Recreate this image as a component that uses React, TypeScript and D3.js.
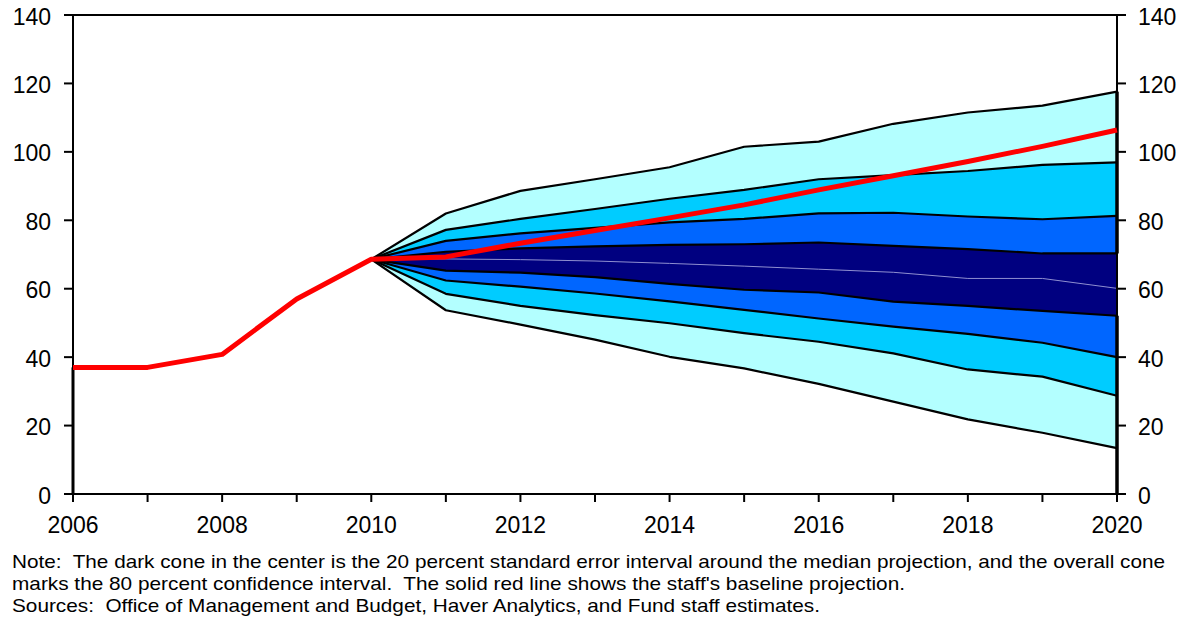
import * as d3 from 'd3';

// historical / baseline projection (red line)
const years = [2006, 2007, 2008, 2009, 2010, 2011, 2012, 2013, 2014, 2015, 2016, 2017, 2018, 2019, 2020];
const baseline = [37.0, 37.0, 40.8, 57.0, 68.6, 69.3, 73.3, 77.0, 80.7, 84.5, 88.9, 93.0, 97.2, 101.6, 106.4];

// fan chart bounds, 2010-2020
const fanYears = [2010, 2011, 2012, 2013, 2014, 2015, 2016, 2017, 2018, 2019, 2020];
const upper80 = [68.6, 82.0, 88.6, 92.0, 95.5, 101.5, 103.0, 108.2, 111.5, 113.5, 117.6];
const upper60 = [68.6, 77.2, 80.4, 83.3, 86.3, 88.9, 92.0, 93.2, 94.4, 96.2, 96.9];
const upper40 = [68.6, 74.0, 76.2, 77.8, 79.4, 80.4, 82.0, 82.2, 81.1, 80.3, 81.3];
const upper20 = [68.6, 70.8, 71.8, 72.4, 72.8, 73.0, 73.5, 72.5, 71.6, 70.3, 70.3];
const median = [68.6, 68.7, 68.5, 68.1, 67.4, 66.6, 65.7, 64.8, 63.0, 63.0, 60.1];
const lower20 = [68.6, 65.3, 64.7, 63.4, 61.4, 59.7, 58.9, 56.2, 55.0, 53.5, 52.1];
const lower40 = [68.6, 62.4, 60.6, 58.6, 56.3, 53.8, 51.3, 48.9, 46.8, 44.2, 40.0];
const lower60 = [68.6, 58.5, 55.0, 52.3, 49.9, 47.0, 44.5, 41.1, 36.4, 34.3, 28.7];
const lower80 = [68.6, 53.7, 49.5, 45.1, 40.1, 36.7, 32.2, 27.0, 21.8, 17.9, 13.4];

const yTicks = [0, 20, 40, 60, 80, 100, 120, 140];
const xLabels = [2006, 2008, 2010, 2012, 2014, 2016, 2018, 2020];

const notes = [
  'Note:  The dark cone in the center is the 20 percent standard error interval around the median projection, and the overall cone',
  "marks the 80 percent confidence interval.  The solid red line shows the staff's baseline projection.",
  'Sources:  Office of Management and Budget, Haver Analytics, and Fund staff estimates.',
];
const noteWidths = [1153, 893, 808];

const WIDTH = 1191;
const HEIGHT = 621;
const FONT = 'Arial, "Liberation Sans", Helvetica, sans-serif';

export default function App() {
  const left = 73;
  const right = 1117;
  const top = 15;
  const bottom = 494;

  const x = d3.scaleLinear().domain([2006, 2020]).range([left, right]);
  const y = d3.scaleLinear().domain([0, 140]).range([bottom, top]);

  const bands = [
    { hi: upper80, lo: upper60, fill: '#B3FFFF' },
    { hi: upper60, lo: upper40, fill: '#00CCFF' },
    { hi: upper40, lo: upper20, fill: '#0066FF' },
    { hi: upper20, lo: lower20, fill: '#000080' },
    { hi: lower20, lo: lower40, fill: '#0066FF' },
    { hi: lower40, lo: lower60, fill: '#00CCFF' },
    { hi: lower60, lo: lower80, fill: '#B3FFFF' },
  ];

  const area = (hi: number[], lo: number[]) =>
    d3.area<number>()
      .x((_, i) => x(fanYears[i]))
      .y0((_, i) => y(lo[i]))
      .y1((_, i) => y(hi[i]))(fanYears) || '';

  const fanLine = (vals: number[]) =>
    d3.line<number>()
      .x((_, i) => x(fanYears[i]))
      .y(d => y(d))(vals) || '';

  const redLine = d3.line<number>()
    .x((_, i) => x(years[i]))
    .y(d => y(d))(baseline) || '';

  const last = fanYears.length - 1;

  return (
    <svg width={WIDTH} height={HEIGHT} style={{ position: 'absolute', left: 0, top: 0, background: '#fff' }}>
      {/* cone bands */}
      {bands.map((b, i) => (
        <path key={i} d={area(b.hi, b.lo)} fill={b.fill} stroke="none" />
      ))}

      {/* median (faint) */}
      <path d={fanLine(median)} fill="none" stroke="#8f8fd0" strokeWidth={1} />

      {/* boundary lines */}
      {[upper80, upper60, upper40, upper20, lower20, lower40, lower60, lower80].map((s, i) => (
        <path key={i} d={fanLine(s)} fill="none" stroke="#000" strokeWidth={2.2} strokeLinejoin="round" />
      ))}

      {/* axes frame */}
      <line x1={left} x2={right} y1={top} y2={top} stroke="#000" strokeWidth={2} />
      <line x1={left} x2={right} y1={bottom} y2={bottom} stroke="#000" strokeWidth={2} />
      <line x1={left} x2={left} y1={top} y2={bottom} stroke="#000" strokeWidth={2} />
      <line x1={right} x2={right} y1={top} y2={bottom} stroke="#000" strokeWidth={2} />

      {/* area outline edges drawn on the axes */}
      <line x1={left} x2={left} y1={y(baseline[0])} y2={bottom} stroke="#000" strokeWidth={3} />
      <line x1={x(fanYears[last])} x2={x(fanYears[last])} y1={y(upper80[last])} y2={y(upper20[last])} stroke="#000" strokeWidth={3.5} />
      <line x1={x(fanYears[last])} x2={x(fanYears[last])} y1={y(lower20[last])} y2={bottom} stroke="#000" strokeWidth={3.5} />

      {/* y ticks & labels, both sides */}
      {yTicks.map(t => (
        <g key={t}>
          <line x1={left - 9} x2={left} y1={y(t)} y2={y(t)} stroke="#000" strokeWidth={2} />
          <line x1={right} x2={right + 9} y1={y(t)} y2={y(t)} stroke="#000" strokeWidth={2} />
          <text x={51} y={y(t) + 9.5} textAnchor="end" fontFamily={FONT} fontSize={23} fill="#000">{t}</text>
          <text x={1138} y={y(t) + 9.5} textAnchor="start" fontFamily={FONT} fontSize={23} fill="#000">{t}</text>
        </g>
      ))}

      {/* x ticks */}
      {years.map(yr => (
        <line key={yr} x1={x(yr)} x2={x(yr)} y1={bottom} y2={bottom + 8} stroke="#000" strokeWidth={2} />
      ))}
      {xLabels.map(yr => (
        <text key={yr} x={x(yr)} y={533} textAnchor="middle" fontFamily={FONT} fontSize={23} fill="#000">{yr}</text>
      ))}

      {/* red baseline */}
      <path d={redLine} fill="none" stroke="#FF0000" strokeWidth={5} strokeLinejoin="round" />

      {/* notes */}
      {notes.map((n, i) => (
        <text
          key={i}
          x={12}
          y={568 + i * 22}
          fontFamily={FONT}
          fontSize={19}
          fill="#000"
          textLength={noteWidths[i]}
          lengthAdjust="spacingAndGlyphs"
          style={{ whiteSpace: 'pre' }}
        >
          {n}
        </text>
      ))}
    </svg>
  );
}
